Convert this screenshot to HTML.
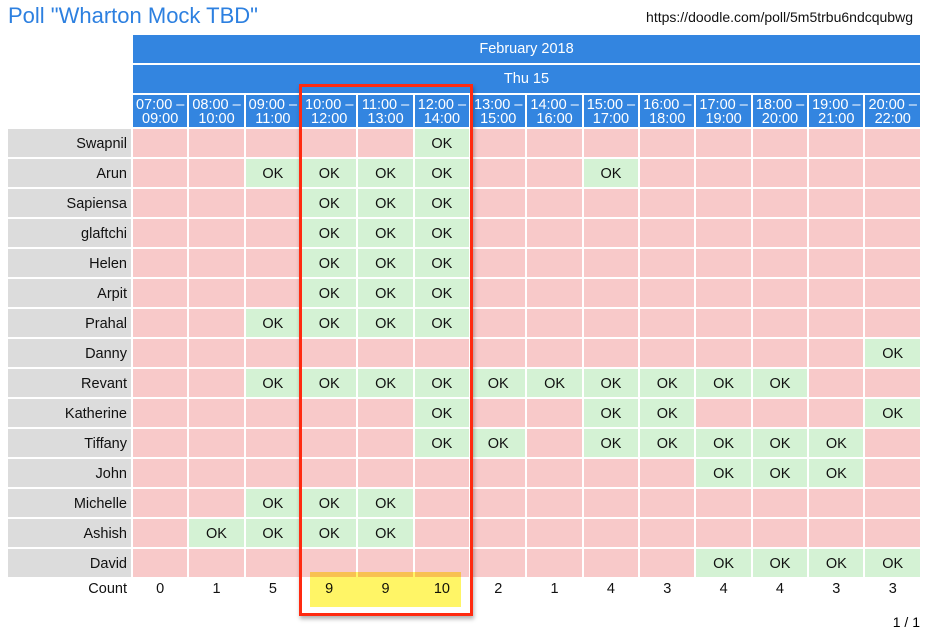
<!DOCTYPE html>
<html><head><meta charset="utf-8"><style>
body{margin:0;width:928px;height:637px;background:#fff;font-family:"Liberation Sans",sans-serif;position:relative;overflow:hidden}
.t{position:absolute;left:8px;top:3px;font-size:22px;color:#2d80e0}
.u{position:absolute;right:15px;top:9px;font-size:14px;color:#111}
table{position:absolute;left:6px;top:33px;border-collapse:separate;border-spacing:2px;table-layout:fixed;width:916px;font-size:14.5px}
td{padding:0;text-align:center;color:#111}
.b{background:#3385e0;color:#fff}
.h1{height:28px}.h3{height:32px;line-height:14px;font-size:14.5px;padding-top:1px;box-sizing:border-box}
tr.r td{height:28px;background:#f8c9c9;padding-top:2px;box-sizing:border-box}
tr.r td.n{background:#dcdcdc;text-align:right;padding-right:4px}
tr.r td.o{background:#d4f2d4}
tr.c td{height:16px;padding-top:2px}
.red{position:absolute;left:299px;top:84px;width:168px;height:526px;border:3px solid #ff2a10;box-shadow:1px 3px 4px rgba(0,0,0,.3)}
.y{position:absolute;left:310px;top:572px;width:151px;height:35px;background:#fff566;mix-blend-mode:multiply;z-index:2}
.p{position:absolute;right:8px;top:614px;font-size:14px}
</style></head><body>
<div class="t">Poll "Wharton Mock TBD"</div>
<div class="u">https://doodle.com/poll/5m5trbu6ndcqubwg</div>
<table>
<colgroup><col style="width:123px"><col span="14"></colgroup>
<tr><td></td><td class="b h1" colspan="14">February 2018</td></tr>
<tr><td></td><td class="b h1" colspan="14">Thu 15</td></tr>
<tr><td></td><td class="b h3">07:00 –<br>09:00</td><td class="b h3">08:00 –<br>10:00</td><td class="b h3">09:00 –<br>11:00</td><td class="b h3">10:00 –<br>12:00</td><td class="b h3">11:00 –<br>13:00</td><td class="b h3">12:00 –<br>14:00</td><td class="b h3">13:00 –<br>15:00</td><td class="b h3">14:00 –<br>16:00</td><td class="b h3">15:00 –<br>17:00</td><td class="b h3">16:00 –<br>18:00</td><td class="b h3">17:00 –<br>19:00</td><td class="b h3">18:00 –<br>20:00</td><td class="b h3">19:00 –<br>21:00</td><td class="b h3">20:00 –<br>22:00</td></tr>
<tr class="r"><td class="n">Swapnil</td><td></td><td></td><td></td><td></td><td></td><td class="o">OK</td><td></td><td></td><td></td><td></td><td></td><td></td><td></td><td></td></tr>
<tr class="r"><td class="n">Arun</td><td></td><td></td><td class="o">OK</td><td class="o">OK</td><td class="o">OK</td><td class="o">OK</td><td></td><td></td><td class="o">OK</td><td></td><td></td><td></td><td></td><td></td></tr>
<tr class="r"><td class="n">Sapiensa</td><td></td><td></td><td></td><td class="o">OK</td><td class="o">OK</td><td class="o">OK</td><td></td><td></td><td></td><td></td><td></td><td></td><td></td><td></td></tr>
<tr class="r"><td class="n">glaftchi</td><td></td><td></td><td></td><td class="o">OK</td><td class="o">OK</td><td class="o">OK</td><td></td><td></td><td></td><td></td><td></td><td></td><td></td><td></td></tr>
<tr class="r"><td class="n">Helen</td><td></td><td></td><td></td><td class="o">OK</td><td class="o">OK</td><td class="o">OK</td><td></td><td></td><td></td><td></td><td></td><td></td><td></td><td></td></tr>
<tr class="r"><td class="n">Arpit</td><td></td><td></td><td></td><td class="o">OK</td><td class="o">OK</td><td class="o">OK</td><td></td><td></td><td></td><td></td><td></td><td></td><td></td><td></td></tr>
<tr class="r"><td class="n">Prahal</td><td></td><td></td><td class="o">OK</td><td class="o">OK</td><td class="o">OK</td><td class="o">OK</td><td></td><td></td><td></td><td></td><td></td><td></td><td></td><td></td></tr>
<tr class="r"><td class="n">Danny</td><td></td><td></td><td></td><td></td><td></td><td></td><td></td><td></td><td></td><td></td><td></td><td></td><td></td><td class="o">OK</td></tr>
<tr class="r"><td class="n">Revant</td><td></td><td></td><td class="o">OK</td><td class="o">OK</td><td class="o">OK</td><td class="o">OK</td><td class="o">OK</td><td class="o">OK</td><td class="o">OK</td><td class="o">OK</td><td class="o">OK</td><td class="o">OK</td><td></td><td></td></tr>
<tr class="r"><td class="n">Katherine</td><td></td><td></td><td></td><td></td><td></td><td class="o">OK</td><td></td><td></td><td class="o">OK</td><td class="o">OK</td><td></td><td></td><td></td><td class="o">OK</td></tr>
<tr class="r"><td class="n">Tiffany</td><td></td><td></td><td></td><td></td><td></td><td class="o">OK</td><td class="o">OK</td><td></td><td class="o">OK</td><td class="o">OK</td><td class="o">OK</td><td class="o">OK</td><td class="o">OK</td><td></td></tr>
<tr class="r"><td class="n">John</td><td></td><td></td><td></td><td></td><td></td><td></td><td></td><td></td><td></td><td></td><td class="o">OK</td><td class="o">OK</td><td class="o">OK</td><td></td></tr>
<tr class="r"><td class="n">Michelle</td><td></td><td></td><td class="o">OK</td><td class="o">OK</td><td class="o">OK</td><td></td><td></td><td></td><td></td><td></td><td></td><td></td><td></td><td></td></tr>
<tr class="r"><td class="n">Ashish</td><td></td><td class="o">OK</td><td class="o">OK</td><td class="o">OK</td><td class="o">OK</td><td></td><td></td><td></td><td></td><td></td><td></td><td></td><td></td><td></td></tr>
<tr class="r"><td class="n">David</td><td></td><td></td><td></td><td></td><td></td><td></td><td></td><td></td><td></td><td></td><td class="o">OK</td><td class="o">OK</td><td class="o">OK</td><td class="o">OK</td></tr>
<tr class="c"><td style="text-align:right;padding-right:4px">Count</td><td>0</td><td>1</td><td>5</td><td>9</td><td>9</td><td>10</td><td>2</td><td>1</td><td>4</td><td>3</td><td>4</td><td>4</td><td>3</td><td>3</td></tr>
</table>
<div class="y"></div>
<div class="red"></div>
<div class="p">1 / 1</div>
</body></html>
